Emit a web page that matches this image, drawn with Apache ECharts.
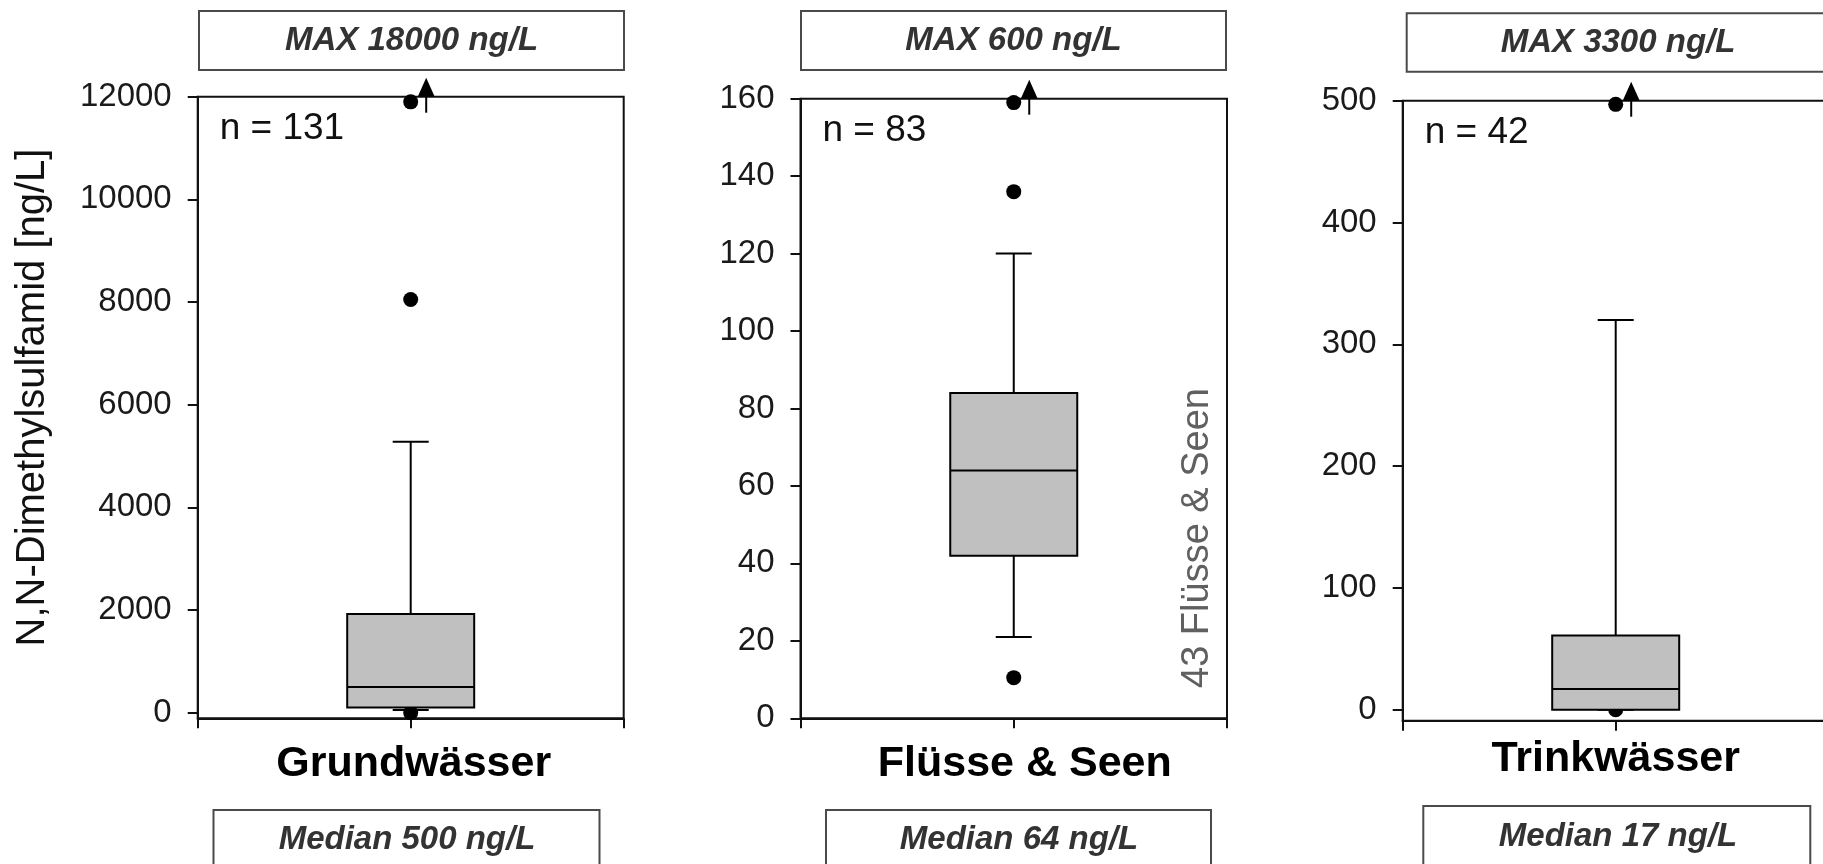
<!DOCTYPE html>
<html><head><meta charset="utf-8">
<script src="https://cdn.jsdelivr.net/npm/echarts@6/dist/echarts.min.js"></script>
<style>html,body{margin:0;padding:0;background:#fff}#c{width:1823px;height:864px}</style>
</head><body><div id="c"></div>
<script>
// ---------- data ----------
const categories = ['Grundwässer', 'Flüsse & Seen', 'Trinkwässer'];
const sampleCounts = [131, 83, 42];
const maxValues = [18000, 600, 3300];
const medianValues = [500, 64, 17];
// [lower whisker, Q1, median, Q3, upper whisker]
const boxGrund = [50, 100, 500, 1920, 5280];
const boxFluesse = [21, 42, 64, 84, 120];
const boxTrink = [0, 0, 17, 61, 320];
const outliersGrund = [0, 8050, 11900];
const outliersFluesse = [10.5, 136, 159];
const outliersTrink = [0, 497];
const yTicksGrund = [0, 2000, 4000, 6000, 8000, 10000, 12000];
const yTicksFluesse = [0, 20, 40, 60, 80, 100, 120, 140, 160];
const yTicksTrink = [0, 100, 200, 300, 400, 500];
const yMinValues = [-110, 0, -9];
const yMaxValues = [12000, 160, 500];
const yAxisTitle = 'N,N-Dimethylsulfamid [ng/L]';
const riverNote = '43 Flüsse & Seen';

// ---------- layout / style ----------
const boxes = [boxGrund, boxFluesse, boxTrink];
const outliers = [outliersGrund, outliersFluesse, outliersTrink];
const yTicks = [yTicksGrund, yTicksFluesse, yTicksTrink];
const FONT = 'Liberation Sans, Arial, sans-serif';
const INK = '#111';
const gridRects = [
  {left: 197.7, top: 96.7, width: 426, height: 621.6},
  {left: 800.5, top: 98.7, width: 426.5, height: 619.6},
  {left: 1402.7, top: 100.7, width: 426, height: 620}
];
const catLabelMargin = [24, 24, 17];
const catLabelPadLeft = [6, 22, 0];
const maxBoxRects = [
  {x: 199, y: 11, w: 425, h: 59, tx: 411.5, ty: 41},
  {x: 801, y: 11, w: 425, h: 59, tx: 1013.5, ty: 41},
  {x: 1406.7, y: 13.3, w: 423, h: 58.4, tx: 1618, ty: 43}
];
const medBoxRects = [
  {x: 213.5, y: 810, w: 386, h: 70, tx: 407, ty: 839.5},
  {x: 826, y: 810, w: 385, h: 70, tx: 1019, ty: 839.5},
  {x: 1423.3, y: 806, w: 387, h: 70, tx: 1618, ty: 837}
];

const grid = [], xAxis = [], yAxis = [], series = [], graphic = [];

categories.forEach((cat, i) => {
  grid.push(Object.assign({show: true, borderColor: INK, borderWidth: 2,
    backgroundColor: 'transparent', containLabel: false, outerBoundsMode: 'none'}, gridRects[i]));
  xAxis.push({
    type: 'value', gridIndex: i, min: 0, max: 2, interval: 1,
    axisLine: {show: true, onZero: false, lineStyle: {color: INK, width: 2}},
    axisTick: {show: true, inside: false, length: 10, lineStyle: {color: INK, width: 2}},
    axisLabel: {show: true, margin: catLabelMargin[i], fontSize: 43, fontWeight: 'bold', fontFamily: FONT,
      color: '#000', padding: [0, 0, 0, catLabelPadLeft[i]],
      formatter: v => (v === 1 ? cat : ''), showMinLabel: true, showMaxLabel: true},
    splitLine: {show: false}
  });
  yAxis.push({
    type: 'value', gridIndex: i, min: yMinValues[i], max: yMaxValues[i],
    axisLine: {show: true, onZero: false, lineStyle: {color: INK, width: 2}},
    axisTick: {show: true, inside: false, length: 10, customValues: yTicks[i],
      lineStyle: {color: INK, width: 2}},
    axisLabel: {show: true, customValues: yTicks[i], margin: 26, fontSize: 33,
      fontFamily: FONT, color: '#1a1a1a', formatter: v => String(v)},
    splitLine: {show: false}
  });
  series.push({
    type: 'scatter', xAxisIndex: i, yAxisIndex: i, z: 2, silent: true,
    symbol: 'circle', symbolSize: 15, itemStyle: {color: '#000', opacity: 1},
    data: outliers[i].map(v => [1, v])
  });
  series.push({
    type: 'custom', xAxisIndex: i, yAxisIndex: i, z: 3, silent: true, clip: false,
    encode: {x: 0, y: [1, 2, 3, 4, 5]},
    data: [[1].concat(boxes[i])],
    renderItem: function (params, api) {
      const xv = api.value(0);
      const p = [1, 2, 3, 4, 5].map(k => api.coord([xv, api.value(k)]));
      const cx = p[0][0];
      const bw = 63.5, cw = 18;
      const ls = {stroke: '#000', lineWidth: 2};
      return {type: 'group', children: [
        {type: 'line', shape: {x1: cx, y1: p[3][1], x2: cx, y2: p[4][1]}, style: ls},
        {type: 'line', shape: {x1: cx - cw, y1: p[4][1], x2: cx + cw, y2: p[4][1]}, style: ls},
        {type: 'line', shape: {x1: cx, y1: p[0][1], x2: cx, y2: p[1][1]}, style: ls},
        {type: 'line', shape: {x1: cx - cw, y1: p[0][1], x2: cx + cw, y2: p[0][1]}, style: ls},
        {type: 'rect', shape: {x: cx - bw, y: p[3][1], width: 2 * bw, height: p[1][1] - p[3][1]},
          style: {fill: '#c0c0c0', stroke: '#000', lineWidth: 2}},
        {type: 'line', shape: {x1: cx - bw, y1: p[2][1], x2: cx + bw, y2: p[2][1]}, style: ls}
      ]};
    }
  });
  const axMax = yMaxValues[i];
  series.push({
    type: 'custom', xAxisIndex: i, yAxisIndex: i, z: 4, silent: true, clip: false,
    encode: {x: 0, y: 1},
    data: [[1, maxValues[i]]],
    renderItem: function (params, api) {
      const c = api.coord([api.value(0), Math.min(api.value(1), axMax)]);
      const x = c[0] + 15.5, y = c[1];
      return {type: 'group', children: [
        {type: 'polygon', shape: {points: [[x - 8.5, y], [x + 8.5, y], [x, y - 19]]}, style: {fill: '#000'}},
        {type: 'line', shape: {x1: x, y1: y, x2: x, y2: y + 16}, style: {stroke: '#000', lineWidth: 2}}
      ]};
    }
  });

  const mb = maxBoxRects[i];
  graphic.push({type: 'rect', shape: {x: mb.x, y: mb.y, width: mb.w, height: mb.h},
    style: {fill: 'rgba(0,0,0,0)', stroke: '#4a4a4a', lineWidth: 2}, silent: true});
  graphic.push({type: 'text', x: mb.tx, y: mb.ty, silent: true,
    style: {text: 'MAX ' + maxValues[i] + ' ng/L', fontSize: 33, fontWeight: 'bold', fontStyle: 'italic',
      fontFamily: FONT, fill: '#333', align: 'center', verticalAlign: 'middle'}});
  const md = medBoxRects[i];
  graphic.push({type: 'rect', shape: {x: md.x, y: md.y, width: md.w, height: md.h},
    style: {fill: 'rgba(0,0,0,0)', stroke: '#4a4a4a', lineWidth: 2}, silent: true});
  graphic.push({type: 'text', x: md.tx, y: md.ty, silent: true,
    style: {text: 'Median ' + medianValues[i] + ' ng/L', fontSize: 33, fontWeight: 'bold', fontStyle: 'italic',
      fontFamily: FONT, fill: '#333', align: 'center', verticalAlign: 'middle'}});
  const g = gridRects[i];
  graphic.push({type: 'text', x: g.left + 22, y: g.top + 32, silent: true,
    style: {text: 'n = ' + sampleCounts[i], fontSize: 37, fontFamily: FONT, fill: '#111',
      align: 'left', verticalAlign: 'middle'}});
});

graphic.push({type: 'text', x: 32.5, y: 397.5, rotation: Math.PI / 2, silent: true,
  style: {text: yAxisTitle, fontSize: 40, fontFamily: FONT, fill: '#111', align: 'center', verticalAlign: 'middle'}});
graphic.push({type: 'text', x: 1198, y: 538, rotation: Math.PI / 2, silent: true,
  style: {text: riverNote, fontSize: 38, fontFamily: FONT, fill: '#606060', align: 'center', verticalAlign: 'middle'}});

const chart = echarts.init(document.getElementById('c'), null, {renderer: 'canvas'});
chart.setOption({
  backgroundColor: '#fff',
  animation: false,
  tooltip: {show: false},
  grid: grid, xAxis: xAxis, yAxis: yAxis, series: series, graphic: graphic
});
</script></body></html>
